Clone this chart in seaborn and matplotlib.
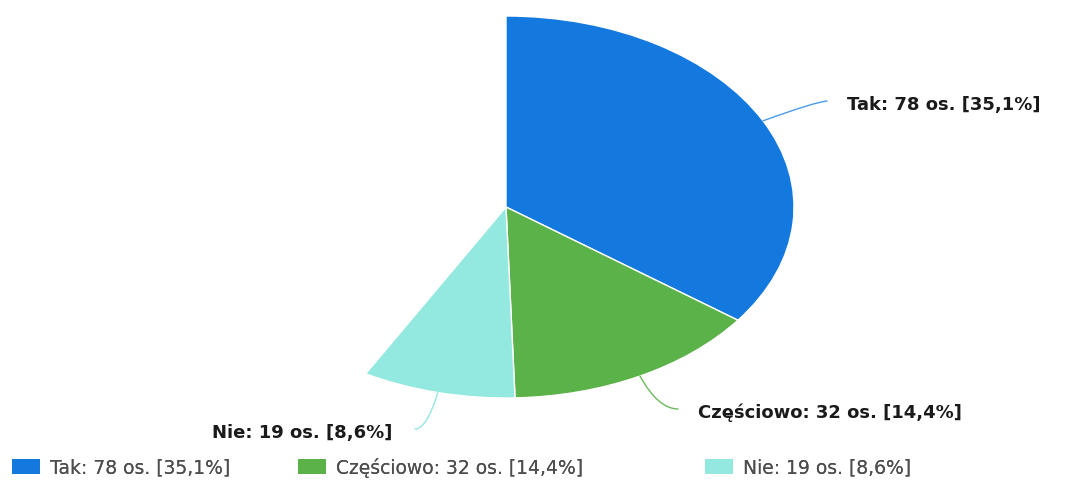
import numpy as np
import matplotlib
matplotlib.use("Agg")
import matplotlib.pyplot as plt
from matplotlib.patches import Patch
import seaborn as sns

# Survey answers
categories = ["Tak", "Częściowo", "Nie"]
counts = [78, 32, 19]
percents = [35.1, 14.4, 8.6]
colors = ["#1479DE", "#5BB249", "#93E8E0"]

sns.set_theme(style="white")
plt.rcParams["font.family"] = ["DejaVu Sans"]

W, H = 1085, 481
fig = plt.figure(figsize=(W / 100, H / 100), dpi=100)
ax = fig.add_axes([0, 0, 1, 1])

# Pie centre and radii in pixels (the pie is drawn stretched horizontally)
cx, cy = 506, 208
rx, ry = 288, 191

fractions = [p / 100 for p in percents]
wedges, _ = ax.pie(
    fractions,
    colors=colors,
    startangle=90,
    counterclock=False,
    normalize=False,
    radius=1,
    wedgeprops=dict(edgecolor="white", linewidth=1.0),
)
ax.set_aspect("auto")
ax.set_xlim(-cx / rx, (W - cx) / rx)
ax.set_ylim(-(H - cy) / ry, cy / ry)
ax.axis("off")


def fmt(name, n, p):
    pct = f"{p:.1f}".replace(".", ",")
    return f"{name}: {n} os. [{pct}%]"


labels = [fmt(c, n, p) for c, n, p in zip(categories, counts, percents)]

# label anchor and leader-line end, in image pixels (y down)
text_pos = [(847, 105, "left"), (698, 413, "left"), (392, 433, "right")]
line_end = [(827, 102), (678, 410), (415, 430)]
line_cols = ["#4A9BEA", "#6DBA5E", "#93E8E0"]
conn = [
    "angle3,angleA=5,angleB=20",
    "angle3,angleA=0,angleB=-61",
    "angle3,angleA=0,angleB=73",
]

for w, lab, tp, le, cs, col in zip(wedges, labels, text_pos, line_end, conn, line_cols):
    mid = np.deg2rad((w.theta1 + w.theta2) / 2)
    xy = (np.cos(mid), np.sin(mid))
    ax.annotate(
        "",
        xy=xy,
        xycoords="data",
        xytext=(le[0], H - le[1]),
        textcoords="figure pixels",
        arrowprops=dict(arrowstyle="-", color=col, lw=1.0,
                        connectionstyle=cs, shrinkA=0, shrinkB=0),
    )
    fig.text(tp[0] / W, 1 - tp[1] / H, lab, ha=tp[2], va="center",
             fontsize=13, fontweight="bold", color="#1a1a1a")

# one legend entry per column, left edges at fixed pixel positions
legend_x = [12, 298, 705]
for c, l, lx in zip(colors, labels, legend_x):
    leg = fig.legend(
        handles=[Patch(facecolor=c, edgecolor="none", label=l)],
        loc="lower left",
        bbox_to_anchor=(lx / W, 3 / H),
        frameon=False,
        fontsize=13.5,
        handlelength=1.5,
        handleheight=0.8,
        handletextpad=0.55,
        borderpad=0,
        borderaxespad=0,
        labelcolor="#4d4d4d",
    )
    fig.add_artist(leg)

fig.savefig("out.png", dpi=100)
